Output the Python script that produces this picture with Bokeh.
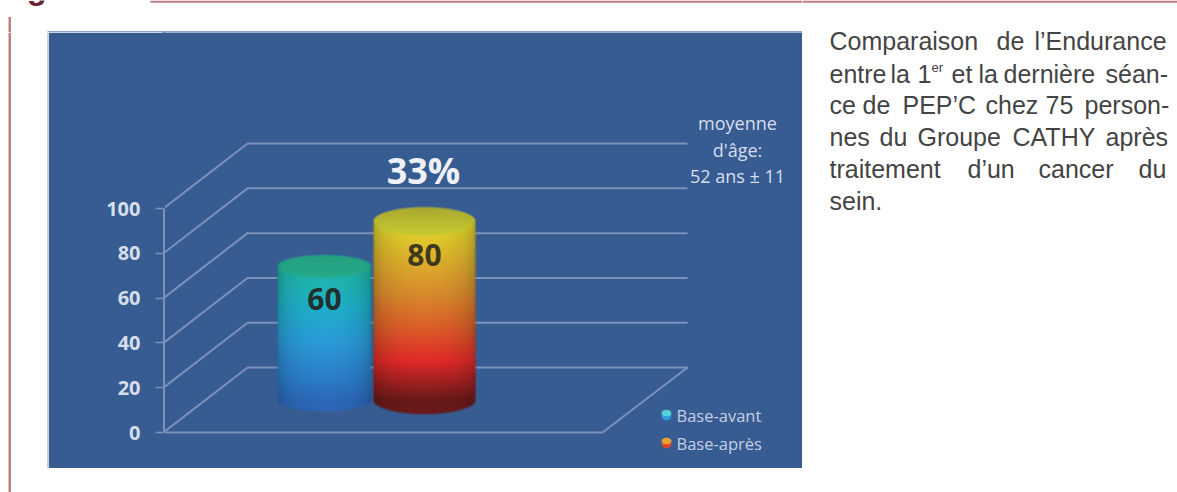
import numpy as np
from bokeh.core.properties import value
from bokeh.embed import file_html
from bokeh.layouts import column, row
from bokeh.models import FixedTicker, Range1d, Spacer
from bokeh.plotting import figure
from bokeh.resources import INLINE

# Chart data
series_names = ["Base-avant", "Base-après"]
series_values = [60, 80]
value_ticks = [0, 20, 40, 60, 80, 100]
gain_label = "33%"
age_note = ["moyenne", "d'âge:", "52 ans ± 11"]
caption_words = [
    ["Comparaison", "de", "l’Endurance"],
    ["entre", "la", "1", "et", "la", "dernière", "séan-"],
    ["ce", "de", "PEP’C", "chez", "75", "person-"],
    ["nes", "du", "Groupe", "CATHY", "après"],
    ["traitement", "d’un", "cancer", "du"],
    ["sein."],
]

# Page colours and metrics
BLUE = "#375c92"
EDGE = "#88a4cc"
RULE = "#c27c83"
GRID = "#7c90bc"
INK = "#444444"
LIGHT = "#d6deec"
PX_PER_UNIT = 2.24
DEPTH_X = 84
DEPTH_V = 29
FLOOR_V = 14.3
FRONT_LEFT, FRONT_RIGHT, BACK_RIGHT = 163, 602, 687


def hex_rgb(c):
    return [int(c[i:i + 2], 16) for i in (1, 3, 5)]


def cylinder(val, rx, ry, stops, cap_front, cap_back):
    """Shaded cylinder as an RGBA array; height follows the value."""
    body = val * PX_PER_UNIT
    H, W = int(body + 2 * ry), 2 * rx
    X, Y = np.meshgrid(np.arange(W) + 0.5 - rx, np.arange(H) + 0.5)
    chord = np.sqrt(np.clip(1 - (X / rx) ** 2, 0, 1))
    top_c = ry + body
    frac = np.clip((top_c - Y) / body, 0, 1)
    pos = [s[0] for s in stops]
    rgb = np.stack(
        [np.interp(frac, pos, [hex_rgb(s[1])[k] for s in stops]) for k in range(3)],
        axis=-1,
    )
    rgb *= (0.6 + 0.4 * chord ** 0.6)[..., None]
    # top face sits over the body, with a soft front rim
    rim = np.clip((1 - ((X / rx) ** 2 + ((Y - top_c) / ry) ** 2)) * ry / 3, 0, 1)[..., None]
    mix = np.clip((Y - top_c + ry) / (2 * ry), 0, 1)[..., None]
    cap_rgb = (np.array(hex_rgb(cap_front)) * (1 - mix) + np.array(hex_rgb(cap_back)) * mix)
    rgb = rgb * (1 - rim) + cap_rgb * rim
    # soft outline
    edge_x = np.clip(rx - np.abs(X), 0, 2) / 2
    low = np.clip((Y - (ry - ry * chord)) / 2.5, 0, 1)
    high = np.clip(((top_c + ry * chord) - Y) / 2, 0, 1)
    alpha = edge_x * low * high
    out = np.zeros((H, W), dtype=np.uint32)
    view = out.view(dtype=np.uint8).reshape((H, W, 4))
    view[..., :3] = np.clip(rgb, 0, 255).astype(np.uint8)
    view[..., 3] = (alpha * 255).astype(np.uint8)
    return out, H


def blank(width, height, x_range, y_range):
    f = figure(width=width, height=height, x_range=x_range, y_range=y_range,
               output_backend="svg", toolbar_location=None,
               x_axis_location=None, y_axis_location=None,
               min_border=0, outline_line_color=None,
               background_fill_color="white", border_fill_color="white")
    f.xgrid.visible = False
    f.ygrid.visible = False
    return f


# Header strip: clipped heading, rule and the chart's top edge
top = blank(802, 32, Range1d(0, 802), Range1d(32, 0))
top.text([0], [0], text=["Figure 3"], x_offset=-3, y_offset=-13, text_baseline="alphabetic",
         text_font=value("Liberation Sans"), text_font_style="bold",
         text_font_size="33px", text_color="#6e2036")
top.quad(left=[150], right=[802], top=[0], bottom=[2.2], fill_color=RULE, line_color=None)
top.quad(left=[8], right=[10.5], top=[16.5], bottom=[32], fill_color=RULE, line_color=None)
top.quad(left=[47], right=[802], top=[30.5], bottom=[32], fill_color=EDGE, line_color=None)

# Left strip: page rule and the chart's left edge
left = blank(48, 460, Range1d(0, 48), Range1d(460, 0))
left.quad(left=[8], right=[10.5], top=[0], bottom=[460], fill_color=RULE, line_color=None)
left.quad(left=[47], right=[48], top=[0], bottom=[436], fill_color=EDGE, line_color=None)

# Chart
chart = figure(width=754, height=436, output_backend="svg", toolbar_location=None,
               x_range=Range1d(163, 802),
               y_range=Range1d((432 - 468) / PX_PER_UNIT, (432 - 32) / PX_PER_UNIT),
               x_axis_location=None, y_axis_location="left",
               min_border_left=115, min_border_right=0, min_border_top=0, min_border_bottom=0,
               outline_line_color=None, background_fill_color=BLUE, border_fill_color=BLUE)
chart.xgrid.visible = False
chart.ygrid.visible = False
ax = chart.yaxis[0]
ax.ticker = FixedTicker(ticks=value_ticks)
# panel-coloured axis line hides the join between the border and the frame
ax.axis_line_color = BLUE
ax.axis_line_width = 3
ax.major_tick_line_color = GRID
ax.major_tick_line_width = 1.5
ax.major_tick_out = 8
ax.major_tick_in = 0
ax.minor_tick_line_color = None
ax.major_label_standoff = 15
ax.major_label_text_color = LIGHT
ax.major_label_text_font = "Open Sans"
ax.major_label_text_font_style = "bold"
ax.major_label_text_font_size = "20px"

# Upright value scale, receding floor and back-wall lines of the 3D plot
chart.line([FRONT_LEFT + 0.5] * 2, [value_ticks[0], value_ticks[-1]], line_color=GRID, line_width=2,
           level="overlay")
back_left = FRONT_LEFT + DEPTH_X
chart.multi_line(
    xs=[[FRONT_LEFT, back_left, BACK_RIGHT] for _ in value_ticks],
    ys=[[t, t + DEPTH_V, t + DEPTH_V] for t in value_ticks],
    line_color=GRID, line_width=2,
)
chart.line([FRONT_LEFT, FRONT_RIGHT, BACK_RIGHT], [0, 0, DEPTH_V], line_color=GRID, line_width=2)

# Cylinders
blue_stops = [(0, "#1fb8a2"), (0.3, "#1fb0c8"), (0.55, "#2a9cd8"), (0.85, "#2c7cc8"), (1, "#2c68b8")]
fire_stops = [(0, "#dcdc30"), (0.1, "#e0c82c"), (0.4, "#d88c2c"), (0.6, "#dc5c28"),
              (0.78, "#e02a28"), (0.9, "#a02020"), (1, "#6a1a1a")]
bars = [
    (324, 48, 12, blue_stops, "#27a98a", "#24a080"),
    (424, 52, 15, fire_stops, "#c8cc30", "#a8a830"),
]
label_drop = [14.8, 15.2]
label_colors = ["#20302e", "#3f3a1c"]
for val, (cx, rx, ry, stops, cap_a, cap_b), drop, ink in zip(series_values, bars, label_drop, label_colors):
    img, h = cylinder(val, rx, ry, stops, cap_a, cap_b)
    chart.image_rgba(image=[img], x=cx - rx, y=FLOOR_V - ry / PX_PER_UNIT,
                     dw=2 * rx, dh=h / PX_PER_UNIT)
    chart.text([cx], [FLOOR_V + val - drop], text=[str(val)], text_align="center",
               text_baseline="middle", text_font=value("Open Sans"), text_font_style="bold",
               text_font_size="30px", text_color=ink)

# Annotations
chart.text([423], [117], text=[gain_label], text_align="center", text_baseline="middle",
           text_font=value("Open Sans"), text_font_style="bold",
           text_font_size="36px", text_color="#eef2f8")
for line, v in zip(age_note, [138, 126, 114.5]):
    chart.text([737], [v], text=[line], text_align="center", text_baseline="middle",
               text_font=value("Open Sans"), text_font_size="18px", text_color=LIGHT)

# Legend
legend_colors = [("#2f9ad8", "#55d0d8"), ("#d8452a", "#e8a030")]
for name, (low_c, high_c), v in zip(series_names, legend_colors, [7.6, -4.9]):
    chart.ellipse([666], [v], width=[10], height=[4.5], fill_color=low_c, line_color=None)
    chart.ellipse([666], [v + 1.1], width=[10], height=[3], fill_color=high_c, line_color=None)
    chart.text([676], [v], text=[name], text_baseline="middle",
               text_font=value("Open Sans"), text_font_size="16.5px", text_color="#c4cfe3")

# Caption column, set word by word to keep its justified edges; it also carries the rule's right end
caption = blank(375, 492, Range1d(802, 1177), Range1d(492, 0))
caption.quad(left=[802], right=[1177], top=[0], bottom=[2.2], fill_color=RULE, line_color=None)
word_x = [
    [829, 996, 1034],
    [829, 890, 917, 951, 978, 1003, 1105],
    [829, 862, 902, 985, 1045, 1084],
    [829, 879, 917, 1012, 1105],
    [829, 967, 1038, 1138],
    [829],
]
baselines = [40, 73, 104, 136, 168, 200]
for words, xs, base in zip(caption_words, word_x, baselines):
    caption.text(xs, [base] * len(xs), text=words, text_baseline="alphabetic",
                 text_font=value("Liberation Sans"), text_font_size="25px", text_color=INK)
caption.text([931], [67], text=["er"], text_baseline="alphabetic",
             text_font=value("Liberation Sans"), text_font_size="13px", text_color=INK)

left_part = column(top, row(left, column(chart, Spacer(width=754, height=24), spacing=0), spacing=0), spacing=0)
layout = row(left_part, caption, spacing=0)
open("out.html", "w").write(file_html(layout, INLINE))
